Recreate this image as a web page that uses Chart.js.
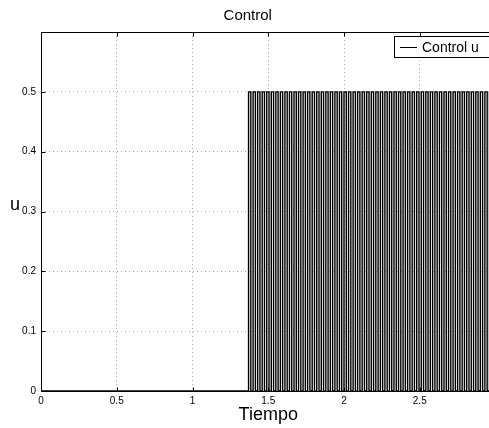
<!DOCTYPE html>
<html>
<head>
<meta charset="utf-8">
<script src="https://cdn.jsdelivr.net/npm/chart.js@4.4.1/dist/chart.umd.min.js"></script>
<style>
  html, body { margin: 0; padding: 0; background: #fff; overflow: hidden; }
  #caja { width: 536px; height: 428px; }
</style>
</head>
<body>
<div id="caja"><canvas id="grafico" width="536" height="428"></canvas></div>
<script>
// instantes de conmutacion de la señal de control y su valor a partir de ahi
const tiempos = [0,
  1.370, 1.385, 1.400, 1.415, 1.430, 1.445, 1.460, 1.475, 1.490, 1.505,
  1.520, 1.535, 1.550, 1.565, 1.580, 1.595, 1.610, 1.625, 1.640, 1.655,
  1.670, 1.685, 1.700, 1.715, 1.730, 1.745, 1.760, 1.775, 1.790, 1.805,
  1.820, 1.835, 1.850, 1.865, 1.880, 1.895, 1.910, 1.925, 1.940, 1.955,
  1.970, 1.985, 2.000, 2.015, 2.030, 2.045, 2.060, 2.075, 2.090, 2.105,
  2.120, 2.135, 2.150, 2.165, 2.180, 2.195, 2.210, 2.225, 2.240, 2.255,
  2.270, 2.285, 2.300, 2.315, 2.330, 2.345, 2.360, 2.375, 2.390, 2.405,
  2.420, 2.435, 2.450, 2.465, 2.480, 2.495, 2.510, 2.525, 2.540, 2.555,
  2.570, 2.585, 2.600, 2.615, 2.630, 2.645, 2.660, 2.675, 2.690, 2.705,
  2.720, 2.735, 2.750, 2.765, 2.780, 2.795, 2.810, 2.825, 2.840, 2.855,
  2.870, 2.885, 2.900, 2.915, 2.930, 2.945, 2.960, 2.975, 2.990, 3.000];
const u = [0,
  0.5, 0, 0.5, 0, 0.5, 0, 0.5, 0, 0.5, 0,
  0.5, 0, 0.5, 0, 0.5, 0, 0.5, 0, 0.5, 0,
  0.5, 0, 0.5, 0, 0.5, 0, 0.5, 0, 0.5, 0,
  0.5, 0, 0.5, 0, 0.5, 0, 0.5, 0, 0.5, 0,
  0.5, 0, 0.5, 0, 0.5, 0, 0.5, 0, 0.5, 0,
  0.5, 0, 0.5, 0, 0.5, 0, 0.5, 0, 0.5, 0,
  0.5, 0, 0.5, 0, 0.5, 0, 0.5, 0, 0.5, 0,
  0.5, 0, 0.5, 0, 0.5, 0, 0.5, 0, 0.5, 0,
  0.5, 0, 0.5, 0, 0.5, 0, 0.5, 0, 0.5, 0,
  0.5, 0, 0.5, 0, 0.5, 0, 0.5, 0, 0.5, 0,
  0.5, 0, 0.5, 0, 0.5, 0, 0.5, 0, 0.5, 0];
const ticksX = [0, 0.5, 1, 1.5, 2, 2.5, 3];
const ticksY = [0, 0.1, 0.2, 0.3, 0.4, 0.5, 0.6];

const fuente = "'Liberation Sans', Arial, Helvetica, sans-serif";

// marco tipo matlab, marcas hacia dentro, leyenda con caja y etiqueta "u" horizontal
const marco = {
    id: 'marco',
    afterDraw(chart) {
        const ctx = chart.ctx;
        const a = chart.chartArea;
        const l = Math.round(a.left) + 0.5, r = Math.round(a.right) + 0.5;
        const t = Math.round(a.top) + 0.5, b = Math.round(a.bottom) + 0.5;
        ctx.save();
        ctx.strokeStyle = '#000';
        ctx.lineWidth = 1;
        ctx.strokeRect(l, t, r - l, b - t);

        ctx.beginPath();
        chart.scales.x.ticks.forEach(tk => {
            const px = Math.round(chart.scales.x.getPixelForValue(tk.value)) + 0.5;
            ctx.moveTo(px, b); ctx.lineTo(px, b - 4);
            ctx.moveTo(px, t); ctx.lineTo(px, t + 4);
        });
        chart.scales.y.ticks.forEach(tk => {
            const py = Math.round(chart.scales.y.getPixelForValue(tk.value)) + 0.5;
            ctx.moveTo(l, py); ctx.lineTo(l + 4, py);
            ctx.moveTo(r, py); ctx.lineTo(r - 4, py);
        });
        ctx.stroke();

        // leyenda
        ctx.fillStyle = '#fff';
        ctx.fillRect(394.5, 36.5, 100, 21);
        ctx.strokeRect(394.5, 36.5, 100, 21);
        ctx.beginPath();
        ctx.moveTo(400, 47.5); ctx.lineTo(417, 47.5);
        ctx.stroke();
        ctx.fillStyle = '#000';
        ctx.font = '14px ' + fuente;
        ctx.textBaseline = 'middle';
        ctx.textAlign = 'left';
        ctx.fillText(chart.data.datasets[0].label, 422, 48);

        // etiqueta del eje y sin girar
        ctx.font = '18px ' + fuente;
        ctx.textAlign = 'center';
        ctx.fillText('u', 15, 205);
        ctx.restore();
    }
};

document.addEventListener('DOMContentLoaded', () => {
    const puntos = tiempos.map((x, i) => ({ x: x, y: u[i] }));
    const ctx = document.getElementById('grafico').getContext('2d');

    new Chart(ctx, {
        type: 'line',
        data: {
            datasets: [{
                label: 'Control u',
                data: puntos,
                borderColor: '#000',
                borderWidth: 1.4,
                pointRadius: 0,
                stepped: true,
                fill: false,
            }]
        },
        options: {
            responsive: false,
            animation: false,
            devicePixelRatio: 1,
            layout: { padding: { left: 0, right: 40.5, top: 0, bottom: 0 } },
            plugins: {
                legend: { display: false },
                tooltip: { enabled: false },
                title: {
                    display: true,
                    text: 'Control',
                    color: '#000',
                    font: { family: fuente, size: 15, weight: 'normal' },
                    padding: { top: 7, bottom: 7 },
                },
            },
            scales: {
                x: {
                    type: 'linear',
                    min: 0,
                    max: 3,
                    afterBuildTicks: s => { s.ticks = ticksX.map(v => ({ value: v })); },
                    afterFit: s => { s.height = 37; },
                    ticks: {
                        color: '#000',
                        font: { family: fuente, size: 10 },
                        padding: 4,
                        maxRotation: 0,
                        callback: v => String(v),
                    },
                    grid: {
                        color: '#aaa',
                        lineWidth: 1,
                        drawTicks: false,
                    },
                    border: { display: false, dash: [1, 3] },
                    title: {
                        display: true,
                        text: 'Tiempo',
                        color: '#000',
                        font: { family: fuente, size: 18 },
                        padding: { top: 0, bottom: 2 },
                    },
                },
                y: {
                    min: 0,
                    max: 0.6,
                    afterBuildTicks: s => { s.ticks = ticksY.map(v => ({ value: v })); },
                    afterFit: s => { s.width = 41; },
                    ticks: {
                        color: '#000',
                        font: { family: fuente, size: 10 },
                        padding: 5,
                        callback: v => (v >= 0.55 ? '' : String(Math.round(v * 10) / 10)),
                    },
                    grid: {
                        color: '#aaa',
                        lineWidth: 1,
                        drawTicks: false,
                    },
                    border: { display: false, dash: [1, 3] },
                },
            },
        },
        plugins: [marco],
    });
});
</script>
</body>
</html>
